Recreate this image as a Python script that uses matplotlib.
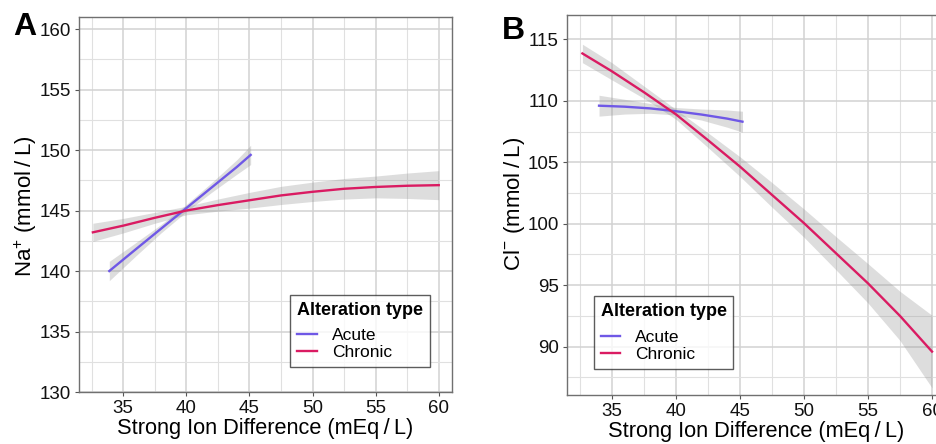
import matplotlib
matplotlib.use("Agg")
import matplotlib.pyplot as plt
import numpy as np
from matplotlib.ticker import MultipleLocator

plt.rcParams["font.family"] = ["Liberation Sans", "DejaVu Sans"]
plt.rcParams["mathtext.fontset"] = "custom"
plt.rcParams["mathtext.rm"] = "Liberation Sans"

# ---- data ----
# Panel A: Na+ vs SID
na_acute_x = [33.9, 36, 38, 40, 42, 44, 45.1]
na_acute_y = [140.0, 141.8, 143.5, 145.2, 146.9, 148.6, 149.6]
na_acute_ci = [0.8, 0.55, 0.35, 0.3, 0.4, 0.6, 0.8]

na_chronic_x = [32.6, 35, 37.5, 40, 42.5, 45, 47.5, 50, 52.5, 55, 57.5, 60]
na_chronic_y = [143.2, 143.75, 144.4, 145.0, 145.45, 145.85, 146.25, 146.55, 146.8, 146.95, 147.05, 147.1]
na_chronic_ci = [0.75, 0.6, 0.45, 0.35, 0.5, 0.65, 0.75, 0.8, 0.85, 0.9, 1.05, 1.2]

# Panel B: Cl- vs SID
cl_acute_x = [34, 36, 38, 40, 42, 44, 45.2]
cl_acute_y = [109.6, 109.52, 109.38, 109.15, 108.88, 108.55, 108.3]
cl_acute_ci = [0.85, 0.6, 0.4, 0.3, 0.45, 0.7, 0.85]

cl_chronic_x = [32.7, 35, 37.5, 40, 42.5, 45, 47.5, 50, 52.5, 55, 57.5, 60]
cl_chronic_y = [113.85, 112.4, 110.7, 108.9, 106.8, 104.65, 102.35, 100.05, 97.6, 95.15, 92.5, 89.6]
cl_chronic_ci = [0.75, 0.7, 0.5, 0.4, 0.6, 0.8, 1.0, 1.15, 1.35, 1.6, 2.0, 2.95]

x_ticks = [35, 40, 45, 50, 55, 60]
na_ticks = [130, 135, 140, 145, 150, 155, 160]
cl_ticks = [90, 95, 100, 105, 110, 115]

acute_color = "#6F58E6"
chronic_color = "#DA1B62"
band_color = "#999999"

x_title = "Strong Ion Difference (mEq\u2009/\u2009L)"


def draw_fit(ax, x, y, ci, color, label):
    x = np.array(x)
    y = np.array(y)
    ci = np.array(ci)
    ax.fill_between(x, y - ci, y + ci, color=band_color, alpha=0.33, lw=0, zorder=2)
    ax.plot(x, y, color=color, lw=1.7, label=label, zorder=3,
            solid_joinstyle="round")


def style_axes(ax, yticks):
    ax.set_xticks(x_ticks)
    ax.set_yticks(yticks)
    ax.xaxis.set_minor_locator(MultipleLocator(2.5))
    ax.yaxis.set_minor_locator(MultipleLocator(2.5))
    ax.grid(which="major", color="#D2D2D2", lw=1.1, zorder=0)
    ax.grid(which="minor", color="#E0E0E0", lw=0.8, zorder=0)
    ax.set_axisbelow(True)
    ax.tick_params(which="major", length=3, width=0.8, color="#555555",
                   labelsize=13.5, labelcolor="#111111", pad=3)
    ax.tick_params(which="minor", length=0)
    for s in ax.spines.values():
        s.set_color("#707070")
        s.set_linewidth(1.0)


def add_legend(ax, anchor):
    leg = ax.legend(title="Alteration type", loc="lower left", bbox_to_anchor=anchor,
                    fontsize=12.5, title_fontproperties={"weight": "bold", "size": 13},
                    frameon=True, fancybox=False, edgecolor="#333333",
                    handlelength=1.1, handletextpad=0.9, labelspacing=0.1,
                    borderpad=0.4, borderaxespad=0, alignment="left")
    leg.get_frame().set_linewidth(1.0)
    leg._legend_box.sep = 7
    return leg


fig = plt.figure(figsize=(9.36, 4.44), dpi=100)

# Panel A
axA = fig.add_axes([0.0844, 0.1171, 0.3985, 0.8446])
draw_fit(axA, na_acute_x, na_acute_y, na_acute_ci, acute_color, "Acute")
draw_fit(axA, na_chronic_x, na_chronic_y, na_chronic_ci, chronic_color, "Chronic")
axA.set_xlim(31.5, 61.05)
axA.set_ylim(130, 161)
style_axes(axA, na_ticks)
axA.set_xlabel(x_title, fontsize=15.7)
axA.set_ylabel("Na$^{+}$ (mmol\u2009/\u2009L)", fontsize=16)
axA.xaxis.set_label_coords(0.499, -0.07)
axA.yaxis.set_label_coords(-0.107, 0.496)
add_legend(axA, (0.567, 0.066))

# Panel B (right edge runs past the figure, as in the reference)
axB = fig.add_axes([0.6058, 0.1104, 0.405, 0.8559])
draw_fit(axB, cl_acute_x, cl_acute_y, cl_acute_ci, acute_color, "Acute")
draw_fit(axB, cl_chronic_x, cl_chronic_y, cl_chronic_ci, chronic_color, "Chronic")
axB.set_xlim(31.5, 61.1)
axB.set_ylim(86.07, 116.98)
style_axes(axB, cl_ticks)
axB.set_xlabel(x_title, fontsize=15.7)
axB.set_ylabel("Cl$^{-}$ (mmol\u2009/\u2009L)", fontsize=16)
axB.xaxis.set_label_coords(0.499, -0.068)
axB.yaxis.set_label_coords(-0.105, 0.503)
add_legend(axB, (0.07, 0.069))

fig.text(0.014, 0.972, "A", fontsize=23, fontweight="bold", va="top", ha="left")
fig.text(0.536, 0.964, "B", fontsize=23, fontweight="bold", va="top", ha="left")

fig.savefig("out.png", dpi=100)
plt.close(fig)
